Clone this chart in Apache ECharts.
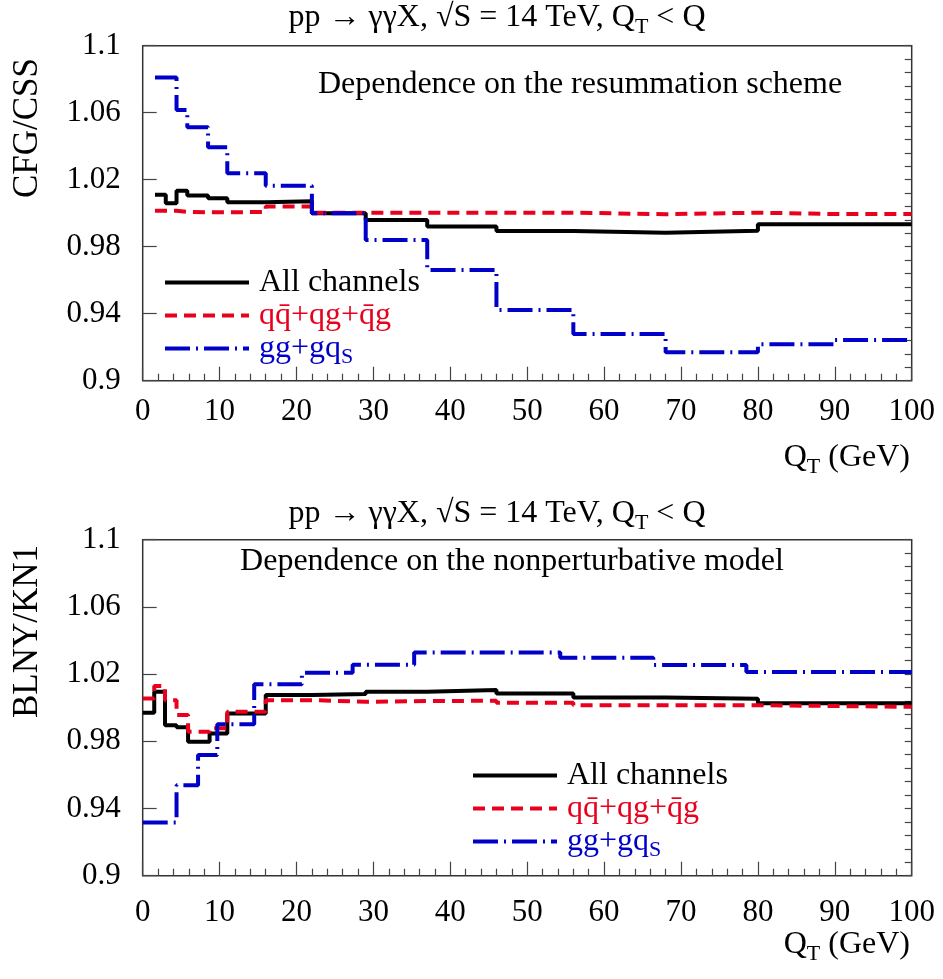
<!DOCTYPE html>
<html>
<head>
<meta charset="utf-8">
<script src="https://cdn.jsdelivr.net/npm/echarts@6/dist/echarts.min.js"></script>
<style>
  html, body { margin: 0; padding: 0; background: #fff; }
  #chart { width: 943px; height: 979px; }
</style>
</head>
<body>
<div id="chart"></div>
<script>
// top panel: CFG/CSS, bins in Q_T (GeV)
var topEdges = [1.6, 3, 4.4, 5.8, 8.5, 11, 16, 22, 29, 37, 46, 56, 68, 80, 90, 100];
var topAll = [1.011, 1.006, 1.0134, 1.0105, 1.009, 1.0065, 1.0072, 1.0, 0.996, 0.992, 0.9894, 0.9884, 0.9895, 0.9934, 0.9934];
var topQq  = [1.0015, 1.0015, 1.0008, 1.0005, 1.0005, 1.0008, 1.004, 1.0003, 1.0003, 1.0003, 1.0003, 0.9994, 1.0003, 0.9995, 0.9995];
var topGg  = [1.081, 1.081, 1.0616, 1.0513, 1.0393, 1.0238, 1.0164, 1.0, 0.984, 0.9661, 0.9422, 0.9279, 0.917, 0.9217, 0.9243];

// bottom panel: BLNY/KN1
var botEdges = [0, 1.5, 2.9, 4.4, 5.9, 8.7, 11, 16, 22, 29, 37, 46, 56, 68, 80, 100];
var botAll = [0.997, 1.0095, 0.9896, 0.9883, 0.9797, 0.9847, 0.9966, 1.0075, 1.0081, 1.0095, 1.0105, 1.0085, 1.0061, 1.0053, 1.0026];
var botQq  = [1.0055, 1.0129, 1.0045, 0.9956, 0.9857, 0.9877, 0.9976, 1.0045, 1.0035, 1.004, 1.0041, 1.0029, 1.0015, 1.0015, 1.0005];
var botGgEdges = [0, 4.4, 7.2, 9.7, 14.5, 20.7, 27.3, 35.3, 54.3, 66.4, 78.5, 100];
var botGg  = [0.9317, 0.9539, 0.9718, 0.9902, 1.014, 1.0208, 1.0256, 1.0329, 1.0297, 1.0254, 1.0212];

var yTicks = [0.9, 0.94, 0.98, 1.02, 1.06, 1.1];
var yMinor = [];
for (var k = 0; k <= 25; k++) yMinor.push(+(0.9 + 0.008 * k).toFixed(3));

var names = ['All channels', 'qq\u0304+qg+q\u0304g', 'gg+gqS'];
var colors = ['#000000', '#e8001c', '#0000c8'];
var dashes = ['solid', [12, 7], [25, 6, 2, 6]];

var FONT = 'Liberation Serif';

function steps(edges, vals) {
  var pts = [];
  for (var i = 0; i < vals.length; i++) pts.push([edges[i], vals[i]]);
  pts.push([edges[edges.length - 1], vals[vals.length - 1]]);
  return pts;
}

function xAxisFor(g, margin) {
  return {
    type: 'value', gridIndex: g, min: 0, max: 100, interval: 10,
    axisLine: { show: false },
    axisTick: { inside: true, length: 14, lineStyle: { color: '#444', width: 1.2 } },
    minorTick: { show: true, splitNumber: 5, length: 7, lineStyle: { color: '#444', width: 1.2 } },
    axisLabel: { margin: margin, fontFamily: FONT, fontSize: 31, color: '#000' },
    splitLine: { show: false }
  };
}
function yAxisFor(g) {
  return {
    type: 'value', gridIndex: g, min: 0.9, max: 1.1,
    axisLine: { show: false },
    axisTick: { inside: true, length: 14, customValues: yTicks, lineStyle: { color: '#444', width: 1.2 } },
    axisLabel: { margin: 22, fontFamily: FONT, fontSize: 31, color: '#000', customValues: yTicks,
      formatter: function (v) { return String(+v.toFixed(2)); } },
    splitLine: { show: false }
  };
}
function yMinorFor(g) {
  return {
    type: 'value', gridIndex: g, min: 0.9, max: 1.1,
    axisLine: { show: false },
    axisTick: { inside: true, length: 7, customValues: yMinor, lineStyle: { color: '#444', width: 1.2 } },
    axisLabel: { show: false },
    splitLine: { show: false }
  };
}

function line(name, i, xi, yi, data) {
  return {
    name: name, type: 'line', step: 'end', xAxisIndex: xi, yAxisIndex: yi,
    symbol: 'none', data: data, z: 2 + i,
    lineStyle: { color: colors[i], width: 4, type: dashes[i], cap: 'butt' },
    itemStyle: { color: colors[i] }
  };
}

function legendAt(left, top) {
  return {
    orient: 'vertical', left: left, top: top, itemWidth: 84, itemHeight: 14, itemGap: 0,
    selectedMode: false,
    itemStyle: { opacity: 0, borderWidth: 0 },
    lineStyle: { width: 4, type: 'inherit', cap: 'butt' },
    data: names.map(function (n, i) { return { name: n, textStyle: { color: colors[i] } }; }),
    formatter: function (n) { return n === 'gg+gqS' ? 'gg+gq{s|S}' : n; },
    textStyle: {
      fontFamily: FONT, fontSize: 32, lineHeight: 33, padding: [0, 0, 0, 5],
      rich: { s: { fontFamily: FONT, fontSize: 22, padding: [18, 0, 0, 0] } }
    }
  };
}

function txt(x, y, text, align, size, extra) {
  var o = {
    type: 'text', x: x, y: y, z: 100,
    style: {
      text: text, fill: '#000', font: (size || 32) + 'px "' + FONT + '"',
      align: align || 'center', verticalAlign: 'middle',
      rich: { s: { fontFamily: FONT, fontSize: 22, fill: '#000', padding: [18, 0, 0, 0] } }
    }
  };
  if (extra) for (var key in extra) o[key] = extra[key];
  return o;
}

var titleText = 'pp \u2192 \u03b3\u03b3X, \u221aS = 14 TeV, Q{s|T} < Q';

var chart = echarts.init(document.getElementById('chart'));
chart.setOption({
  animation: false,
  backgroundColor: '#fff',
  grid: [
    { left: 142.7, top: 45.7, width: 769, height: 335, show: true, borderColor: '#333', borderWidth: 1.5 },
    { left: 142.7, top: 539.7, width: 769, height: 336, show: true, borderColor: '#333', borderWidth: 1.5 }
  ],
  xAxis: [xAxisFor(0, 16), xAxisFor(1, 22)],
  yAxis: [yAxisFor(0), yMinorFor(0), yAxisFor(1), yMinorFor(1)],
  legend: [legendAt(158, 261), legendAt(466, 754)],
  series: [
    line(names[0], 0, 0, 0, steps(topEdges, topAll)),
    line(names[1], 1, 0, 0, steps(topEdges, topQq)),
    line(names[2], 2, 0, 0, steps(topEdges, topGg)),
    line(names[0], 0, 1, 2, steps(botEdges, botAll)),
    line(names[1], 1, 1, 2, steps(botEdges, botQq)),
    line(names[2], 2, 1, 2, steps(botGgEdges, botGg))
  ],
  graphic: [
    txt(497, 18, titleText),
    txt(497, 514, titleText),
    txt(580, 85, 'Dependence on the resummation scheme'),
    txt(512, 562, 'Dependence on the nonperturbative model'),
    txt(910, 458, 'Q{s|T} (GeV)', 'right'),
    txt(910, 945, 'Q{s|T} (GeV)', 'right'),
    txt(28, 58, 'CFG/CSS', 'right', 35, { rotation: Math.PI / 2 }),
    txt(28, 545, 'BLNY/KN1', 'right', 35, { rotation: Math.PI / 2 })
  ]
});
</script>
</body>
</html>
